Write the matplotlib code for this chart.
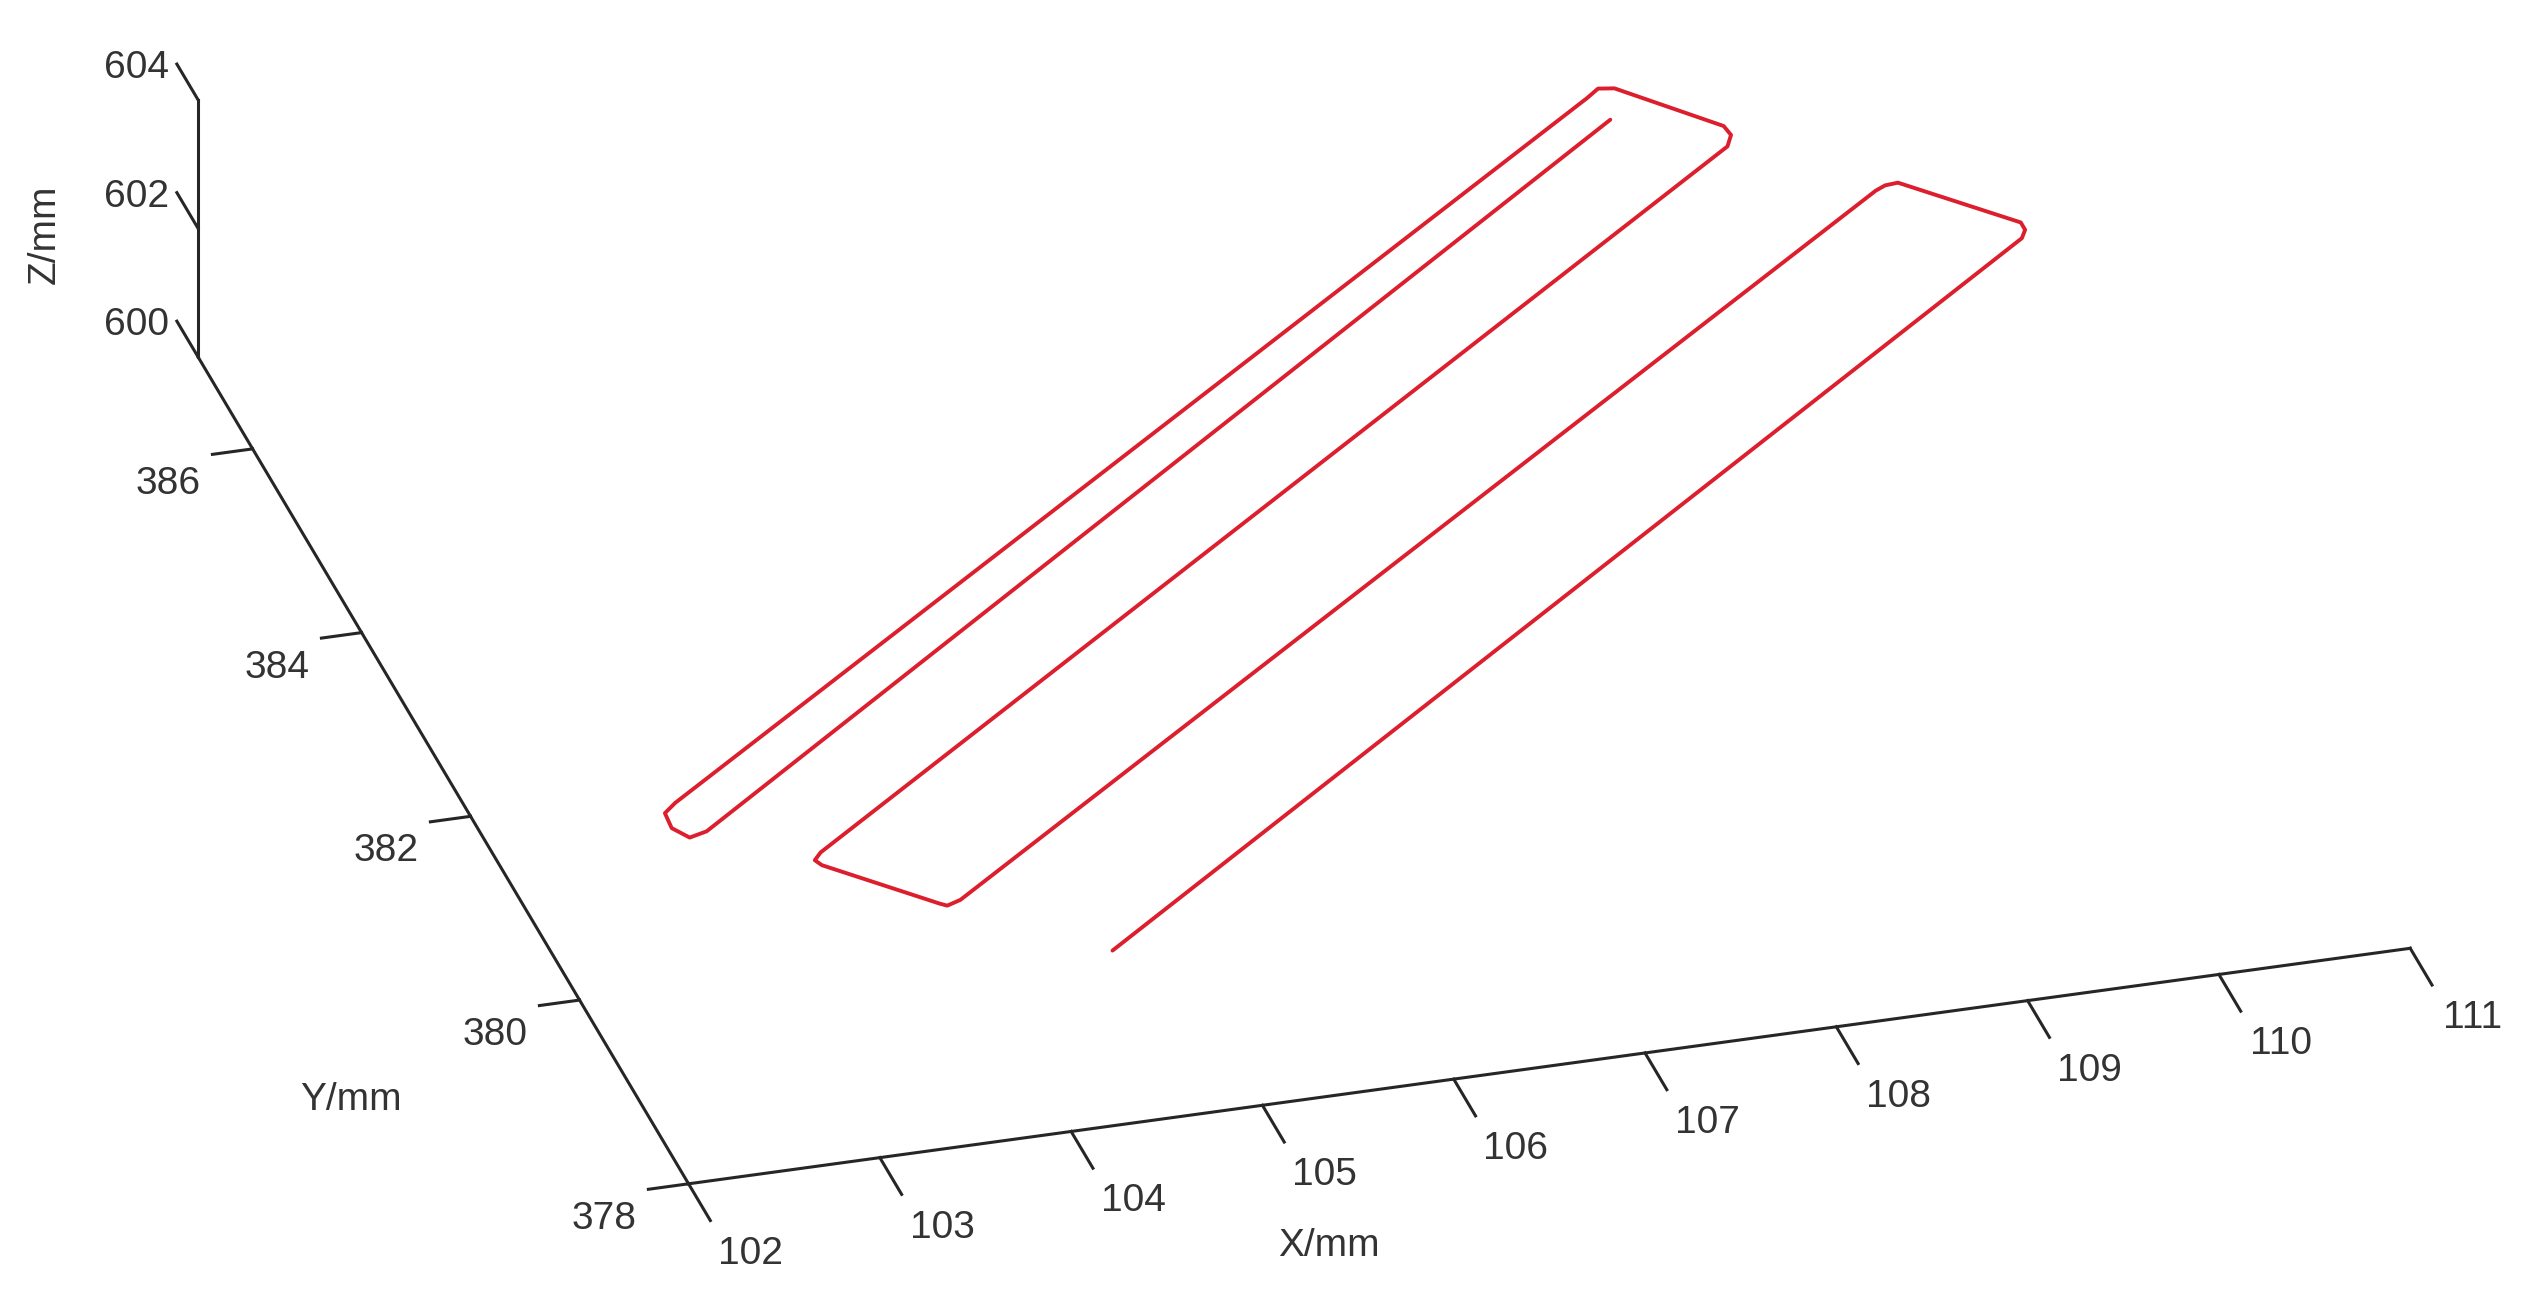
import matplotlib
matplotlib.use("Agg")
import matplotlib.pyplot as plt
from mpl_toolkits.mplot3d import proj3d
import numpy as np

# ---------------- data (trajectory, mm) ----------------
x_path = [109.14, 102.73, 102.63, 102.57, 102.58, 102.66, 109.09, 109.17, 109.25,
          109.67, 109.68, 109.63, 103.22, 103.17, 103.19, 103.65, 103.68, 103.76,
          110.22, 110.28, 110.35, 110.83, 110.83, 110.79, 104.35]
y_path = [386.15, 380.23, 380.19, 380.31, 380.47, 380.56, 386.40, 386.48, 386.46,
          385.93, 385.83, 385.72, 379.86, 379.79, 379.73, 379.18, 379.15, 379.19,
          385.07, 385.11, 385.12, 384.55, 384.47, 384.39, 378.47]
z_path = [602.0, 602.0, 602.0, 602.0, 602.0, 602.0, 602.0, 602.0, 602.0,
          602.0, 602.0, 602.0, 602.0, 602.0, 602.0, 602.0, 602.0, 602.0,
          602.0, 602.0, 602.0, 602.0, 602.0, 602.0, 602.0]

x_lim = (102, 111)
y_lim = (378, 387)
z_lim = (600, 604)
x_ticks = [102, 103, 104, 105, 106, 107, 108, 109, 110, 111]
y_ticks = [378, 380, 382, 384, 386]
z_ticks = [600, 602, 604]
x_label = "X/mm"
y_label = "Y/mm"
z_label = "Z/mm"

# ---------------- style ----------------
W, H = 2525, 1311
DPI = 100
axc = "#262626"
txtc = "#333333"
red = "#dc1e2d"
fs = 28
fam = ["Liberation Sans", "DejaVu Sans"]

fig = plt.figure(figsize=(W / DPI, H / DPI), dpi=DPI)
fig.patch.set_facecolor("white")
ax = fig.add_axes([0, 0, 1, 1], projection="3d")
ax.set_proj_type("ortho")
ax.view_init(elev=28.7, azim=-105.9)
ax.set_axis_off()

ax.plot(x_path, y_path, z_path, color=red, lw=2.8, solid_capstyle="round",
        solid_joinstyle="round")

x0, x1 = x_lim
y0, y1 = y_lim
z0, z1 = z_lim
lw_ax = 2.2
# axis lines
ax.plot([x0, x1], [y0, y0], [z0, z0], color=axc, lw=lw_ax)
ax.plot([x0, x0], [y0, y1], [z0, z0], color=axc, lw=lw_ax)
ax.plot([x0, x0], [y1, y1], [z0, z1], color=axc, lw=lw_ax)

# tick marks
for xt in x_ticks:
    ax.plot([xt, xt], [y0, y0 - 0.40], [z0, z0], color=axc, lw=lw_ax)
for yt in y_ticks:
    ax.plot([x0, x0 - 0.21], [yt, yt], [z0, z0], color=axc, lw=lw_ax)
for zt in z_ticks:
    ax.plot([x0, x0], [y1, y1 + 0.39], [zt, zt], color=axc, lw=lw_ax)

ax.set_xlim(x_lim)
ax.set_ylim(y_lim)
ax.set_zlim(z_lim)
ax.set_box_aspect((9 * 198.7, 9 * 198.7, 4 * 73.2))

for a in ax.get_children():
    try:
        a.set_clip_on(False)
    except Exception:
        pass

# ---------------- calibrate placement of the 3D box on the canvas ----------------
ref_pts = [(x0, y0, z0), (x1, y0, z0), (x0, y1, z0), (x0, y1, z1)]
ref_px = [(689, 1186), (2408, 951), (198, 357), (200, 95)]  # image coords


def project(p):
    M = ax.get_proj()
    xs, ys, _ = proj3d.proj_transform(np.array([p[0]]), np.array([p[1]]),
                                      np.array([p[2]]), M)
    d = ax.transData.transform((xs[0], ys[0]))
    return d[0], d[1]


pos = [0.0, 0.0, float(W), float(H)]  # in display px
for it in range(3):
    ax.set_position([pos[0] / W, pos[1] / H, pos[2] / W, pos[3] / H])
    fig.canvas.draw()
    A = []
    b = []
    for p, t in zip(ref_pts, ref_px):
        dx, dy = project(p)
        A.append([dx, 1, 0]); b.append(t[0])
        A.append([dy, 0, 1]); b.append(H - t[1])
    sol, *_ = np.linalg.lstsq(np.array(A), np.array(b), rcond=None)
    k, tx, ty = sol
    pos = [k * pos[0] + tx, k * pos[1] + ty, k * pos[2], k * pos[3]]

ax.set_position([pos[0] / W, pos[1] / H, pos[2] / W, pos[3] / H])
fig.canvas.draw()


def label_at(p, s, **kw):
    dx, dy = project(p)
    fig.text(dx / W, dy / H, s, fontsize=fs, color=txtc, family=fam, **kw)


# tick labels (anchored at projected 3D points next to the ticks)
for xt in x_ticks:
    label_at((xt + 0.10, y0 - 0.79, z0), str(xt), ha="center", va="center")
for yt in y_ticks:
    label_at((x0 - 0.507, yt - 0.237, z0), str(yt), ha="center", va="center")
for zt in z_ticks:
    label_at((x0 - 0.05, y1 + 0.36, zt), str(zt), ha="right", va="center")

label_at((104.92, 376.49, 600), x_label, ha="center", va="center")
label_at((100.61, 379.31, 600), y_label, ha="center", va="center")
label_at((101.2, 387.0, 602.23), z_label, ha="center", va="center", rotation=90)

fig.savefig("out.png", dpi=DPI, facecolor="white")
